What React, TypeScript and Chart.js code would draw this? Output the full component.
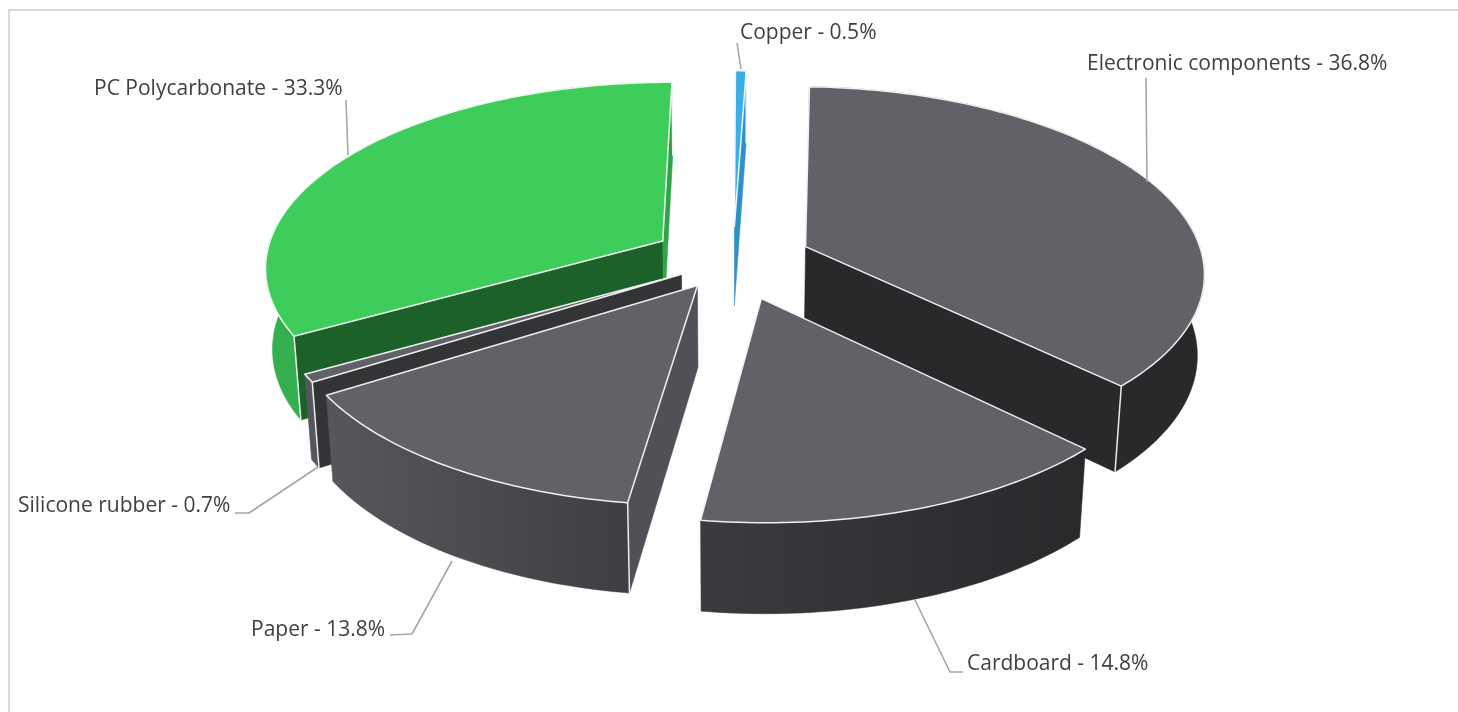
import React, { useEffect, useRef } from "react";
import { Chart, registerables } from "chart.js";

Chart.register(...registerables);

const categories = ["Electronic components", "Cardboard", "Paper", "Silicone rubber", "PC Polycarbonate", "Copper"];
const shares = [36.8, 14.8, 13.8, 0.7, 33.3, 0.5];
const explosion = [63.6, 69.4, 52, 48, 66.5, 60];

const topColors = ["#616267", "#616267", "#616267", "#616267", "#3ECD5B", "#3AAEE6"];
const startWallColors = ["#28292B", "#28292B", "#505156", "#333436", "#1C6129", "#2F90C6"];
const endWallColors = ["#28292B", "#28292B", "#505156", "#56575C", "#2FA548", "#2F90C6"];
const rimLeftColors = ["#28292B", "#3A3B3E", "#56575C", "#56575C", "#35B04F", "#2F90C6"];
const rimRightColors = ["#28292B", "#28292B", "#3E3F42", "#56575C", "#2A9A43", "#2F90C6"];

const labelX = [1087, 967, 251, 18, 94, 740];
const labelY = [64.5, 664.5, 630.5, 506.5, 89.5, 33.5];
const leaders: number[][][] = [
  [[1146, 78], [1147, 182]],
  [[915, 600], [950, 672], [963, 672]],
  [[452, 561], [412, 634], [390, 635]],
  [[318, 467], [249, 513], [235, 513]],
  [[346, 100], [348, 155]],
  [[737, 43], [741, 69]],
];

const CAMERA = { cx: 733, cy: 260, a: 398, b: 184, d: 82, k: 0.13, m: 0.015 };

type P = [number, number];
const project = (u: number, v: number, z: number): P => {
  const w = 1 - CAMERA.k * v + CAMERA.m * z;
  return [CAMERA.cx + (CAMERA.a * u) / w, CAMERA.cy + (CAMERA.b * v + CAMERA.d * z) / w];
};

const fillPoly = (ctx: CanvasRenderingContext2D, pts: P[], fill: string | CanvasGradient) => {
  ctx.beginPath();
  pts.forEach((p, i) => (i ? ctx.lineTo(p[0], p[1]) : ctx.moveTo(p[0], p[1])));
  ctx.closePath();
  ctx.fillStyle = fill;
  ctx.fill();
  ctx.strokeStyle = fill;
  ctx.lineWidth = 0.5;
  ctx.stroke();
};

const area = (pts: P[]) => {
  let s = 0;
  pts.forEach((p, i) => {
    const q = pts[(i + 1) % pts.length];
    s += p[0] * q[1] - q[0] * p[1];
  });
  return s / 2;
};

const line = (ctx: CanvasRenderingContext2D, pts: P[], close = false) => {
  ctx.beginPath();
  pts.forEach((p, i) => (i ? ctx.lineTo(p[0], p[1]) : ctx.moveTo(p[0], p[1])));
  if (close) ctx.closePath();
  ctx.stroke();
};

const pie3d = {
  id: "pie3d",
  beforeDatasetsDraw(chart: any) {
    const ctx: CanvasRenderingContext2D = chart.ctx;
    const arcs = chart.getDatasetMeta(0).data;
    const slices = arcs.map((arc: any, i: number) => {
      const mid = (arc.startAngle + arc.endAngle) / 2;
      const e = arc.options.offset / arc.outerRadius;
      return { i, arc, ou: Math.cos(mid) * e, ov: Math.sin(mid) * e };
    });
    slices.sort((p: any, q: any) => p.ov - q.ov);

    for (const { i, arc, ou, ov } of slices) {
      const steps = Math.max(2, Math.ceil((arc.endAngle - arc.startAngle) / 0.02));
      const rimTop: P[] = [];
      const rimBot: P[] = [];
      for (let s = 0; s <= steps; s++) {
        const t = arc.startAngle + ((arc.endAngle - arc.startAngle) * s) / steps;
        rimTop.push(project(ou + Math.cos(t), ov + Math.sin(t), 0));
        rimBot.push(project(ou + Math.cos(t), ov + Math.sin(t), 1));
      }
      const apexTop = project(ou, ov, 0);
      const apexBot = project(ou, ov, 1);
      const first = 0;
      const last = steps;

      const startWall: P[] = [apexTop, rimTop[first], rimBot[first], apexBot];
      const endWall: P[] = [apexTop, rimTop[last], rimBot[last], apexBot];
      const startVisible = area(startWall) < 0;
      const endVisible = area(endWall) > 0;

      if (startVisible) fillPoly(ctx, startWall, startWallColors[i]);
      if (endVisible) fillPoly(ctx, endWall, endWallColors[i]);

      const xs = rimBot.map((p) => p[0]);
      const grad = ctx.createLinearGradient(Math.min(...xs), 0, Math.max(...xs), 0);
      grad.addColorStop(0, rimLeftColors[i]);
      grad.addColorStop(1, rimRightColors[i]);
      fillPoly(ctx, [...rimTop, ...[...rimBot].reverse()], grad);

      const top: P[] = [apexTop, ...rimTop];
      fillPoly(ctx, top, topColors[i]);

      ctx.strokeStyle = "rgba(255,255,255,0.9)";
      ctx.lineWidth = 1.5;
      ctx.lineJoin = "round";
      line(ctx, top, true);
      if (startVisible) line(ctx, [rimTop[first], rimBot[first]]);
      if (endVisible) line(ctx, [rimTop[last], rimBot[last]]);
    }
    return false;
  },
  afterDraw(chart: any) {
    const ctx: CanvasRenderingContext2D = chart.ctx;
    ctx.save();
    ctx.strokeStyle = "#A6A6A6";
    ctx.lineWidth = 1.6;
    leaders.forEach((pts) => line(ctx, pts as P[]));
    ctx.fillStyle = "#404040";
    ctx.font = '21px "Open Sans"';
    ctx.textAlign = "left";
    ctx.textBaseline = "middle";
    categories.forEach((name, i) => {
      ctx.fillText(`${name} - ${shares[i]}%`, labelX[i], labelY[i]);
    });
    ctx.restore();
  },
};

export default function App() {
  const ref = useRef<HTMLCanvasElement>(null);
  useEffect(() => {
    const chart = new Chart(ref.current as HTMLCanvasElement, {
      type: "pie",
      data: {
        labels: categories,
        datasets: [{ data: shares, backgroundColor: topColors, borderWidth: 0, offset: explosion }],
      },
      options: {
        animation: false,
        responsive: false,
        rotation: 2,
        layout: { padding: 0 },
        plugins: { legend: { display: false }, tooltip: { enabled: false } },
      },
      plugins: [pie3d],
    } as any);
    return () => chart.destroy();
  }, []);
  return (
    <div style={{ position: "absolute", left: 0, top: 0, width: 1458, height: 712, background: "#fff", overflow: "hidden" }}>
      <div
        style={{
          position: "absolute",
          left: 8,
          top: 9,
          width: 1450,
          height: 703,
          boxSizing: "border-box",
          borderLeft: "2px solid #D9D9D9",
          borderTop: "2px solid #D9D9D9",
        }}
      />
      <canvas ref={ref} width={1458} height={712} style={{ position: "absolute", left: 0, top: 0, display: "block" }} />
    </div>
  );
}
